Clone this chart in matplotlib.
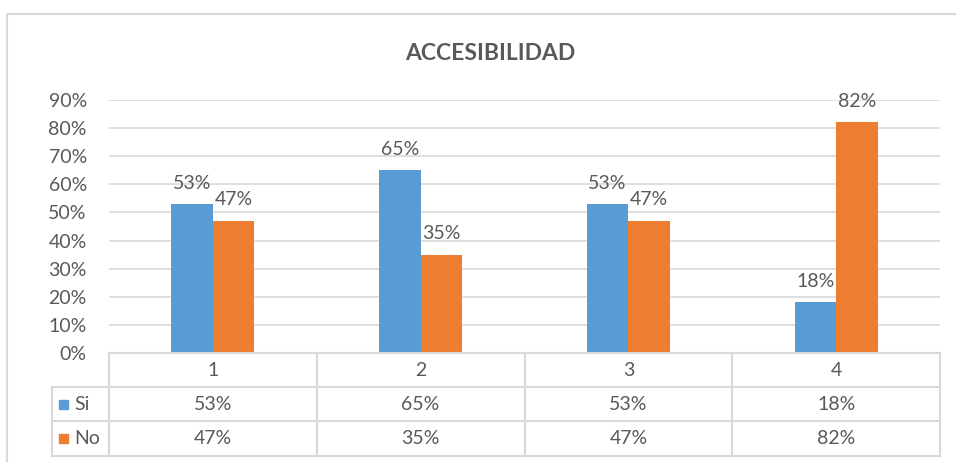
import matplotlib.pyplot as plt
import matplotlib.transforms as mtransforms
from matplotlib.patches import Rectangle
from matplotlib.lines import Line2D

plt.rcParams['font.family'] = ['Lato', 'DejaVu Sans']

categorias = ["1", "2", "3", "4"]
series = ["Si", "No"]
si = [53, 65, 53, 18]
no = [47, 35, 47, 82]
colores = ["#5B9BD5", "#ED7D31"]
titulo = "ACCESIBILIDAD"

W, H = 956, 462
gris_texto = "#595959"
gris_linea = "#D9D9D9"

fig = plt.figure(figsize=(W / 100, H / 100), dpi=100)

def fx(px):
    return px / W

def fy(py):
    return 1 - py / H

ax = fig.add_axes([fx(109), fy(353), fx(940) - fx(109), fy(100) - fy(353)])

x = list(range(len(categorias)))
ancho = 0.2
valores = [si, no]
for i, (nombre, vals) in enumerate(zip(series, valores)):
    pos = [xi + (i - 0.5) * ancho for xi in x]
    barras = ax.bar(pos, vals, width=ancho, color=colores[i], zorder=3, label=nombre)
    for b, v in zip(barras, vals):
        ax.annotate(f"{v}%", (b.get_x() + b.get_width() / 2, v), xytext=(0, 9),
                    textcoords="offset points", ha="center", va="bottom",
                    fontsize=14, color=gris_texto)

ax.set_xlim(-0.5, len(categorias) - 0.5)
ax.set_ylim(0, 90)
ax.set_yticks(range(0, 91, 10))
ax.set_yticklabels([f"{t}%" for t in range(0, 91, 10)])
ax.tick_params(axis="y", length=0, labelsize=14, colors=gris_texto, pad=16)
ax.set_xticks([])
ax.grid(axis="y", color=gris_linea, linewidth=1.2, zorder=0)
for s in ax.spines.values():
    s.set_visible(False)

# tabla de datos
trans = mtransforms.blended_transform_factory(ax.transData, fig.transFigure)
filas_y = [353, 387, 421, 456]
izq = fx(52)
# lineas horizontales
fig.add_artist(Line2D([fx(109), fx(940)], [fy(353)] * 2, color=gris_linea, lw=1.5))
for py in filas_y[1:]:
    fig.add_artist(Line2D([izq, fx(940)], [fy(py)] * 2, color=gris_linea, lw=1.5))
# lineas verticales
for xb in [k - 0.5 for k in range(len(categorias) + 1)]:
    fig.add_artist(Line2D([xb, xb], [fy(353), fy(456)], color=gris_linea, lw=1.5,
                          transform=trans))
fig.add_artist(Line2D([izq, izq], [fy(387), fy(456)], color=gris_linea, lw=1.5))

# encabezados
for xi, c in zip(x, categorias):
    fig.text(0, fy(370), c, transform=trans, ha="center", va="center",
             fontsize=14, color=gris_texto).set_x(xi)
# filas
for r, (nombre, vals) in enumerate(zip(series, valores)):
    yc = fy((filas_y[r + 1] + filas_y[r + 2]) / 2)
    fig.add_artist(Rectangle((fx(59), yc - 4.5 / H), 9 / W, 9 / H,
                             color=colores[r], transform=fig.transFigure))
    fig.text(fx(74), yc, nombre, ha="left", va="center", fontsize=14, color=gris_texto)
    for xi, v in zip(x, vals):
        t = fig.text(0, yc, f"{v}%", transform=trans, ha="center", va="center",
                     fontsize=14, color=gris_texto)
        t.set_x(xi)

# titulo
fig.text(fx(490), fy(53), titulo, ha="center", va="center", fontsize=16.5,
         fontweight="bold", color=gris_texto)

# borde del grafico
fig.add_artist(Rectangle((fx(7), -0.2), 1.2, fy(14) + 0.2, fill=False,
                         edgecolor=gris_linea, lw=1.5, transform=fig.transFigure))

fig.savefig("out.png", dpi=100)
